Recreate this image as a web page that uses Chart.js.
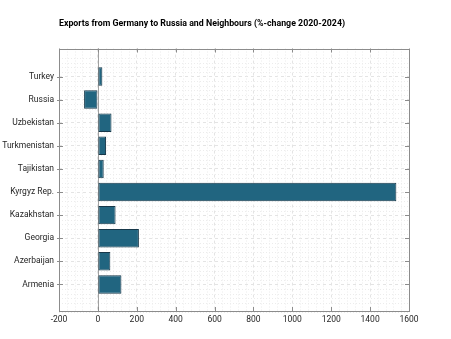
<!DOCTYPE html>
<html>
<head>
<meta charset="utf-8">
<script src="https://cdn.jsdelivr.net/npm/chart.js@4"></script>
<style>
  html, body { margin: 0; padding: 0; background: #fff; }
  #wrap { width: 451px; height: 339px; position: relative; }
</style>
</head>
<body>
<div id="wrap"><canvas id="chart"></canvas></div>
<script>
// bottom to top, as drawn
const countries = ['Armenia', 'Azerbaijan', 'Georgia', 'Kazakhstan', 'Kyrgyz Rep.',
	'Tajikistan', 'Turkmenistan', 'Uzbekistan', 'Russia', 'Turkey'];
const pctChange = [121, 64, 211, 91, 1535, 30, 42, 70, -71, 23];
const xTicks = [-200, 0, 200, 400, 600, 800, 1000, 1200, 1400, 1600];
const titleText = 'Exports from Germany to Russia and Neighbours (%-change 2020-2024)';

const BAR = '#216580';
const AXIS = '#8c8c8c';
const TEXT = '#262626';

// axes box, inward ticks and faint minor grid (octave look)
const axesBox = {
	id: 'axesBox',
	beforeDatasetsDraw(chart) {
		const { ctx, chartArea: a, scales } = chart;
		ctx.save();
		ctx.strokeStyle = '#ececec';
		ctx.lineWidth = 1;
		ctx.setLineDash([1, 2]);
		for (let v = -200; v <= 1600; v += 40) {
			if (v % 200 === 0) continue;
			const x = Math.round(scales.x.getPixelForValue(v)) + 0.5;
			ctx.beginPath(); ctx.moveTo(x, a.top); ctx.lineTo(x, a.bottom); ctx.stroke();
		}
		for (let v = -1.2; v <= 10.2; v += 0.2) {
			if (Math.abs(v - Math.round(v)) < 0.01) continue;
			const y = Math.round(scales.y.getPixelForValue(v)) + 0.5;
			ctx.beginPath(); ctx.moveTo(a.left, y); ctx.lineTo(a.right, y); ctx.stroke();
		}
		ctx.setLineDash([]);
		// zero line
		ctx.strokeStyle = '#a0a0a0';
		const x0 = Math.round(scales.x.getPixelForValue(0)) + 0.5;
		ctx.beginPath(); ctx.moveTo(x0, a.top); ctx.lineTo(x0, a.bottom); ctx.stroke();
		ctx.restore();
	},
	afterDraw(chart) {
		const { ctx, chartArea: a, scales } = chart;
		ctx.save();
		ctx.strokeStyle = AXIS;
		ctx.lineWidth = 1;
		ctx.strokeRect(Math.round(a.left) + 0.5, Math.round(a.top) + 0.5,
			Math.round(a.right - a.left), Math.round(a.bottom - a.top));
		const t = 4;
		ctx.beginPath();
		xTicks.forEach(v => {
			const x = Math.round(scales.x.getPixelForValue(v)) + 0.5;
			ctx.moveTo(x, a.bottom); ctx.lineTo(x, a.bottom - t);
			ctx.moveTo(x, a.top); ctx.lineTo(x, a.top + t);
		});
		countries.forEach((c, i) => {
			const y = Math.round(scales.y.getPixelForValue(i)) + 0.5;
			ctx.moveTo(a.left - 2, y); ctx.lineTo(a.left + t, y);
			ctx.moveTo(a.right, y); ctx.lineTo(a.right - t, y);
		});
		ctx.stroke();
		ctx.restore();
	},
};

new Chart(document.getElementById('chart'), {
	type: 'bar',
	data: {
		datasets: [{
			data: pctChange.map((v, i) => ({ x: v, y: i })),
			backgroundColor: BAR,
			borderColor: '#17384a',
			borderWidth: 1,
			borderSkipped: false,
			barPercentage: 0.8,
			categoryPercentage: 1,
		}],
	},
	options: {
		indexAxis: 'y',
		responsive: true,
		maintainAspectRatio: false,
		animation: false,
		layout: { padding: { top: 0, right: 42, bottom: 8, left: 0 } },
		plugins: {
			legend: { display: false },
			tooltip: { enabled: false },
			title: {
				display: true,
				text: titleText,
				align: 'start',
				fullSize: false,
				color: '#000',
				font: { family: 'Roboto', size: 8.8, weight: 'bold' },
				padding: { top: 19, bottom: 19 },
			},
		},
		scales: {
			x: {
				type: 'linear',
				min: -200,
				max: 1600,
				afterBuildTicks(scale) { scale.ticks = xTicks.map(v => ({ value: v })); },
				ticks: { color: TEXT, font: { family: 'Roboto', size: 8.5 }, padding: 4, callback: v => String(v) },
				grid: { color: '#e4e4e4', drawTicks: false, offset: false },
				border: { display: false, dash: [3, 3] },
				afterFit(scale) { scale.height = 20; },
			},
			y: {
				type: 'linear',
				offset: false,
				min: -1.15,
				max: 10.21,
				afterBuildTicks(scale) { scale.ticks = countries.map((c, i) => ({ value: i })); },
				ticks: {
					color: TEXT,
					font: { family: 'Roboto', size: 8.5 },
					padding: 5,
					callback: v => countries[v] || '',
				},
				grid: { color: '#e4e4e4', drawTicks: false, offset: false },
				border: { display: false, dash: [3, 3] },
				afterFit(scale) { scale.width = 59; },
			},
		},
	},
	plugins: [axesBox],
});
</script>
</body>
</html>
